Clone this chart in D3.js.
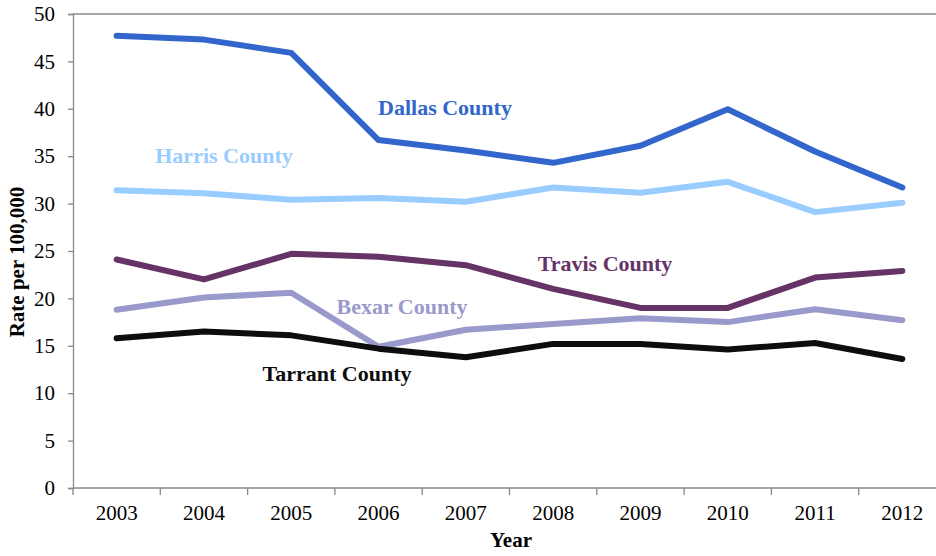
<!DOCTYPE html>
<html>
<head>
<meta charset="utf-8">
<script src="https://cdn.jsdelivr.net/npm/d3@7"></script>
<style>
  html, body { margin: 0; padding: 0; background: #fff; }
  svg { display: block; }
  text { font-family: "Liberation Serif", "Times New Roman", serif; }
</style>
</head>
<body>
<svg id="chart" width="936" height="556"></svg>
<script>
const years = ["2003","2004","2005","2006","2007","2008","2009","2010","2011","2012"];
const yTicks = [0,5,10,15,20,25,30,35,40,45,50];

const dallas  = [47.7, 47.3, 45.9, 36.7, 35.6, 34.3, 36.1, 39.95, 35.5, 31.7];
const harris  = [31.4, 31.1, 30.4, 30.6, 30.2, 31.7, 31.15, 32.3, 29.1, 30.1];
const travis  = [24.1, 22.0, 24.7, 24.4, 23.5, 21.0, 19.0, 19.0, 22.2, 22.9];
const bexar   = [18.8, 20.1, 20.6, 14.9, 16.7, 17.3, 17.9, 17.5, 18.85, 17.7];
const tarrant = [15.8, 16.5, 16.1, 14.7, 13.8, 15.2, 15.2, 14.6, 15.3, 13.6];

const seriesNames = ["Dallas County","Harris County","Travis County","Bexar County","Tarrant County"];
const seriesColors = ["#3366cc","#99ccff","#663366","#9999cc","#0d0d0d"];
const seriesValues = [dallas, harris, travis, bexar, tarrant];
// label anchor (center x, baseline y) in pixels
const labelPos = [[445,115],[224,163],[605,271],[402,314],[337,381]];

(function() {
const svg = d3.select("#chart");
const mLeft = 73, mTop = 14, mBottom = 488, band = 87.3;
const x = d3.scaleBand().domain(years).range([mLeft, mLeft + band * years.length]).padding(0);
const y = d3.scaleLinear().domain([0, 50]).range([mBottom, mTop]);
const axisColor = "#898989";

// top border line
svg.append("line").attr("x1", mLeft).attr("x2", 936).attr("y1", y(50)).attr("y2", y(50))
  .attr("stroke", axisColor).attr("stroke-width", 1.3);

// Y axis
const yAxis = svg.append("g").attr("transform", `translate(${mLeft},0)`)
  .call(d3.axisLeft(y).tickValues(yTicks).tickSize(5).tickPadding(13).tickFormat(d3.format("d")));
yAxis.select(".domain").attr("stroke", axisColor).attr("stroke-width", 1.3);
yAxis.selectAll(".tick line").attr("stroke", axisColor).attr("stroke-width", 1.3);
yAxis.selectAll(".tick text").attr("font-size", 21).attr("fill", "#000")
  .attr("font-family", "'Liberation Serif', 'Times New Roman', serif");

// X axis: ticks at band boundaries
const xg = svg.append("g").attr("transform", `translate(0,${mBottom})`);
xg.append("line").attr("x1", mLeft).attr("x2", 936).attr("y1", 0).attr("y2", 0)
  .attr("stroke", axisColor).attr("stroke-width", 1.3);
const boundaries = years.map(d => x(d)).concat([x(years[years.length-1]) + x.bandwidth()]);
xg.selectAll("line.tk").data(boundaries).join("line").attr("class","tk")
  .attr("x1", d => d).attr("x2", d => d).attr("y1", 0).attr("y2", 7)
  .attr("stroke", axisColor).attr("stroke-width", 1.3);
xg.selectAll("text.lbl").data(years).join("text").attr("class","lbl")
  .attr("x", d => x(d) + x.bandwidth()/2).attr("y", 32)
  .attr("text-anchor","middle").attr("font-size", 21).attr("fill","#000").text(d => d);

// axis titles
svg.append("text").attr("x", 511).attr("y", 547).attr("text-anchor","middle")
  .attr("font-size", 21).attr("font-weight","bold").text("Year");
svg.append("text").attr("transform","translate(24,262) rotate(-90)").attr("text-anchor","middle")
  .attr("font-size", 21).attr("font-weight","bold").text("Rate per 100,000");

// lines
const line = d3.line().x((d,i) => x(years[i]) + x.bandwidth()/2).y(d => y(d));
seriesValues.forEach((vals, k) => {
  svg.append("path").datum(vals).attr("d", line)
    .attr("fill","none").attr("stroke", seriesColors[k]).attr("stroke-width", 6)
    .attr("stroke-linejoin","round").attr("stroke-linecap","round");
});

// labels
seriesNames.forEach((name, k) => {
  svg.append("text").attr("x", labelPos[k][0]).attr("y", labelPos[k][1])
    .attr("text-anchor","middle").attr("font-size", 22).attr("font-weight","bold")
    .attr("fill", seriesColors[k]).text(name);
});
})();
</script>
</body>
</html>
